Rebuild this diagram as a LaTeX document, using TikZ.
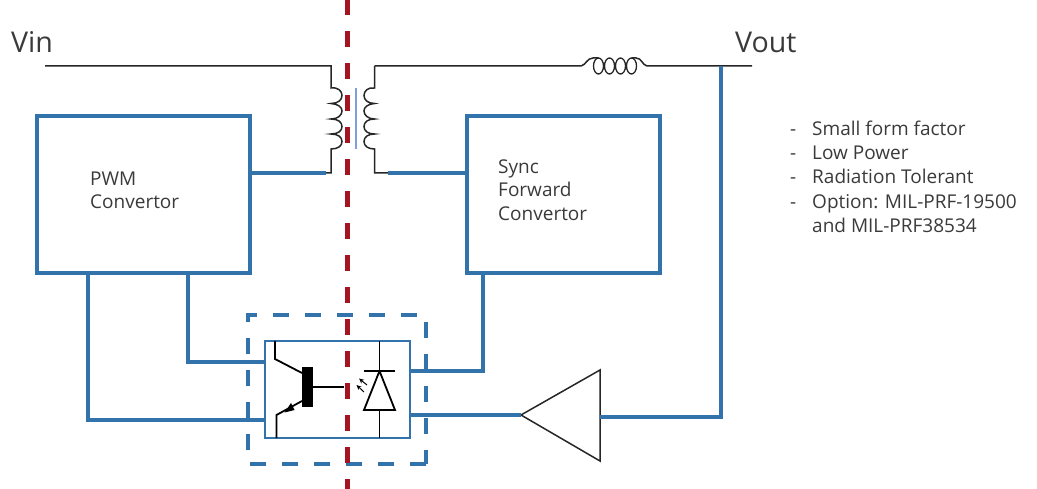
\documentclass[tikz,border=0pt]{standalone}
\usepackage{fontspec}
\setmainfont{Open Sans}
\usetikzlibrary{arrows.meta}
\definecolor{wireblue}{HTML}{3373AB}
\definecolor{barrier}{HTML}{A31621}
\definecolor{coreblue}{HTML}{7D9FDC}
\definecolor{inkgrey}{HTML}{3A3A3A}
\tikzset{
  x=1pt,y=-1pt,
  bluewire/.style={draw=wireblue,line width=3.8pt},
  blackwire/.style={draw=black!85,line width=1.5pt},
  conv/.style={draw=wireblue,line width=3.8pt,inner sep=0pt,outer sep=0pt,anchor=north west},
  isol/.style={draw=wireblue,line width=2pt,inner sep=0pt,outer sep=0pt,anchor=north west},
  lab/.style={inner sep=0pt,text=inkgrey,anchor=base west,align=left,font=\fontsize{19pt}{23.7pt}\selectfont},
  listlab/.style={lab,font=\fontsize{19pt}{24.3pt}\selectfont},
  biglab/.style={inner sep=0pt,text=inkgrey,anchor=base west,font=\fontsize{28.6pt}{30pt}\selectfont},
}
\begin{document}
\begin{tikzpicture}
\useasboundingbox (0,0) rectangle (1037,489);
% boxes
\node[conv,minimum width=213pt,minimum height=157pt] (pwm) at (37,116) {};
\node[conv,minimum width=193pt,minimum height=157pt] (sync) at (467,116) {};
\node[isol,minimum width=145pt,minimum height=97pt] (opto) at (265,341) {};
\coordinate (isoSE) at (426,464);
\coordinate (isoSW) at (248,464);
\coordinate (isoNW) at (248,315);
\coordinate (isoNE) at (426,315);
\draw[draw=wireblue,line width=3.8pt,dash pattern=on 16pt off 16pt] (isoSE) -- (isoSW) -- (isoNW) -- (isoNE) -- (isoSE);
% labels
\node[biglab] (vin) at (11,53) {Vin};
\node[biglab] (vout) at (735,53) {Vout};
\node[lab] (pwmt) at (90,209) {PWM\\Convertor};
\node[lab] (synct) at (498,220.5) {Sync\\Forward\\Convertor};
\node[listlab] (feat) at (790,232.5) {\makebox[22pt][l]{-}Small form factor\\\makebox[22pt][l]{-}Low Power\\\makebox[22pt][l]{-}Radiation Tolerant\\\makebox[22pt][l]{-}Option: MIL-PRF-19500\\\makebox[22pt][l]{}and MIL-PRF38534};
% transformer
\coordinate (vinEnd) at (45,66);
\coordinate (pT) at (331,66);
\coordinate (pA) at (331,88);
\coordinate (pB) at (331,149);
\coordinate (pC) at (331,173);
\coordinate (pW) at (326,173);
\coordinate (sT) at (374.5,66);
\coordinate (sA) at (374.5,88);
\coordinate (sB) at (374.5,149);
\coordinate (sC) at (374.5,173);
\coordinate (sW) at (388,173);
\draw[blackwire,line join=miter] (vinEnd) -- (pT) -- (pA)
  .. controls (338,87) and (342,91) .. (342,95.5) .. controls (342,100) and (338,103.5) .. (331,103.5)
  .. controls (338,104) and (342,107) .. (342,111) .. controls (342,115) and (338,119) .. (331,119)
  .. controls (338,119) and (342,122) .. (342,126.5) .. controls (342,131) and (338,134) .. (331,134)
  .. controls (338,134) and (342,137) .. (342,141.5) .. controls (342,146) and (338,149) .. (pB) -- (pC) -- (pW);
\draw[blackwire,line join=miter] (sT) -- (sA)
  .. controls (368,87) and (364,91) .. (364,95.5) .. controls (364,100) and (368,103.5) .. (374.5,103.5)
  .. controls (368,104) and (364,107) .. (364,111) .. controls (364,115) and (368,119) .. (374.5,119)
  .. controls (368,119) and (364,122) .. (364,126.5) .. controls (364,131) and (368,134) .. (374.5,134)
  .. controls (368,134) and (364,137) .. (364,141.5) .. controls (364,146) and (368,149) .. (sB) -- (sC) -- (sW);
\coordinate (coreT) at (356,88);
\coordinate (coreB) at (356,149);
\draw[draw=coreblue,line width=1.3pt] (coreT) -- (coreB);
% output line with inductor
\coordinate (indL) at (581,66);
\coordinate (indR) at (647,66);
\coordinate (outEnd) at (752,66);
\draw[blackwire] (sT) -- (indL) .. controls (586,65) and (587,58) .. (593,58) -- (598.5,58);
\draw[blackwire] (631.5,58) -- (636,58) .. controls (642,58) and (642,65) .. (indR) -- (outEnd);
\foreach \cx in {598.5,609.5,620.5,631.5}
  \draw[draw=black!85,line width=1.3pt] (\cx,66) ellipse [x radius=5pt,y radius=8pt];
% wires
\draw[bluewire] (pwm.east |- pW) -- (pW);
\draw[bluewire] (sW) -- (sync.west |- sW);
\draw[bluewire] (88,273) |- (opto.west |- 0,420);
\draw[bluewire] (188,273) |- (opto.west |- 0,362);
\draw[bluewire] (483,273) |- (opto.east |- 0,371);
% amplifier
\coordinate (ampTip) at (521,415);
\coordinate (ampT) at (600,370);
\coordinate (ampB) at (600,461);
\draw[blackwire,line join=miter,fill=white] (ampTip) -- (ampT) -- (ampB) -- cycle;
\draw[bluewire] (opto.east |- ampTip) -- (ampTip);
\draw[bluewire,line join=miter] (600,417) -- (721,417) -- (721,66);
% barrier
\coordinate (barT) at (347,-1);
\coordinate (barB) at (347,489);
\draw[draw=barrier,line width=5pt,dash pattern=on 16pt off 16pt] (barT) -- (barB);
% phototransistor
\coordinate (bT) at (307.5,367);
\node[fill=black,inner sep=0pt,outer sep=0pt,minimum width=11pt,minimum height=40pt,anchor=north] (bar) at (bT) {};
\draw[draw=black,line width=1.8pt,line join=miter] (275,341) -- (275,359) -- (bar.west |- 0,373);
\draw[draw=black,line width=1.8pt,line join=miter] (bar.west |- 0,401) -- (276.5,415) -- (276.5,438);
\fill[black] (284.5,412.5) -- (291,403) -- (294.5,410) -- cycle;
\draw[draw=black,line width=1.8pt] (bar.east |- 0,387) -- (344,387);
% diode
\draw[draw=black,line width=1.6pt] (379.5,341) -- (379.5,371);
\draw[draw=black,line width=1.8pt] (364,371) -- (395,371);
\draw[draw=black,line width=1.8pt,line join=miter,fill=white] (379.5,371) -- (395,410) -- (364,410) -- cycle;
\draw[draw=black,line width=1.6pt] (379.5,410) -- (379.5,438);
\draw[draw=black,line width=1pt,-{Stealth[length=5pt,width=4.5pt]}] (367,385) -- (359,378.5);
\draw[draw=black,line width=1pt,-{Stealth[length=5pt,width=4.5pt]}] (364,392) -- (356.5,385);
\end{tikzpicture}
\end{document}
